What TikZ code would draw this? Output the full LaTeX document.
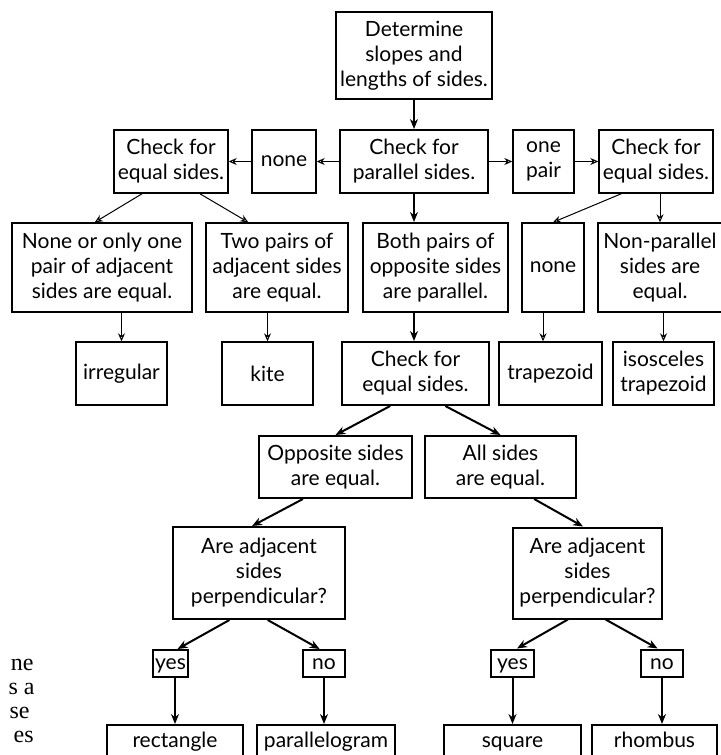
\documentclass[tikz,border=0pt]{standalone}
\usepackage{fontspec}
\setmainfont{Lato}
\newfontfamily\marginfont{Liberation Serif}
\usetikzlibrary{arrows.meta,calc}
\tikzset{%
	mainbox/.style   = {draw, rectangle, line width=1pt, align=center, inner sep=1pt, font=\fontsize{10.5}{12.5}\selectfont},
	sidebox/.style   = {mainbox, line width=0.7pt},
	endbox/.style    = {mainbox, text height=1.6ex, text depth=0.4ex},
	boxsize/.style 2 args = {minimum width=#1*0.5pt, minimum height=#2*0.5pt},
	margintext/.style= {inner sep=0pt, font=\marginfont\fontsize{12}{14}\selectfont},
	mainarrow/.style = {line width=1pt, -{Stealth[length=5pt,width=4pt]}},
	sidearrow/.style = {line width=0.5pt, -{Stealth[open,length=4pt,width=3.5pt]}},
}

\begin{document}
\begin{tikzpicture}[x=0.5pt,y=-0.5pt]
	\useasboundingbox (0,0) rectangle (720,755);
	
	% top
	\node[mainbox, boxsize={156}{87}] (det) at (414,55.5) {Determine\\slopes and\\lengths of sides.};
	\node[mainbox, boxsize={148}{63}] (par) at (414,161.5) {Check for\\parallel sides.};
	\node[sidebox, boxsize={64}{63}] (noneL) at (284,161.5) {none};
	\node[sidebox, boxsize={114}{63}] (eqL) at (171,161.5) {Check for\\equal sides.};
	\node[sidebox, boxsize={61}{63}] (onepair) at (543.5,161.5) {one\\pair};
	\node[sidebox, boxsize={114}{63}] (eqR) at (656,161.5) {Check for\\equal sides.};
	
	% second row
	\node[sidebox, boxsize={180}{89}] (noneadj) at (102,267.5) {None or only one\\pair of adjacent\\sides are equal.};
	\node[sidebox, boxsize={142}{89}] (twopairs) at (277,267.5) {Two pairs of\\adjacent sides\\are equal.};
	\node[mainbox, boxsize={145}{89}] (both) at (435.5,267.5) {Both pairs of\\opposite sides\\are parallel.};
	\node[sidebox, boxsize={62}{89}] (noneR) at (553,267.5) {none};
	\node[sidebox, boxsize={124}{89}] (nonpar) at (660,267.5) {Non-parallel\\sides are\\equal.};
	
	% third row
	\node[sidebox, boxsize={91}{63}] (irr) at (121.5,373.5) {irregular};
	\node[sidebox, boxsize={91}{63}] (kite) at (267.5,373.5) {kite};
	\node[mainbox, boxsize={147}{63}] (eqM) at (415.5,373.5) {Check for\\equal sides.};
	\node[sidebox, boxsize={103}{63}] (trap) at (550.5,373.5) {trapezoid};
	\node[sidebox, boxsize={101}{63}] (isos) at (663.5,373.5) {isosceles\\trapezoid};
	
	% lower tree
	\node[mainbox, boxsize={153}{62}] (opp) at (335.5,467) {Opposite sides\\are equal.};
	\node[mainbox, boxsize={151}{62}] (all) at (500.5,467) {All sides\\are equal.};
	\node[mainbox, boxsize={172}{92}] (adjL) at (259,573) {Are adjacent\\sides\\perpendicular?};
	\node[mainbox, boxsize={149}{91}] (adjR) at (587.5,573) {Are adjacent\\sides\\perpendicular?};
	\node[endbox, boxsize={35}{27}] (yesL) at (170.5,663.5) {yes};
	\node[endbox, boxsize={42}{27}] (noL) at (324,663.5) {no};
	\node[endbox, boxsize={43}{27}] (yesR) at (512.5,663) {yes};
	\node[endbox, boxsize={42}{27}] (noR) at (662,663) {no};
	\node[endbox, boxsize={136}{33}] (rect) at (175,741.5) {rectangle};
	\node[endbox, boxsize={138}{33}] (para) at (326,741.5) {parallelogram};
	\node[endbox, boxsize={137}{33}] (sq) at (512.5,741.5) {square};
	\node[endbox, boxsize={125}{33}] (rhomb) at (654.5,741.5) {rhombus};
	
	% cut text at the margin
	\node[margintext, anchor=base east] (m1) at (34,670) {ne};
	\node[margintext, anchor=base east] (m2) at (35,694) {s a};
	\node[margintext, anchor=base east] (m3) at (30,718) {se};
	\node[margintext, anchor=base east] (m4) at (34,742) {es};
	
	% main path
	\draw[mainarrow] (det) -- (par);
	\draw[mainarrow] (par) -- (par.south |- both.north);
	\draw[mainarrow] (par.south |- both.south) -- (par.south |- eqM.north);
	\draw[mainarrow] ($(eqM.south west)!0.33!(eqM.south east)$) -- (opp.north);
	\draw[mainarrow] ($(eqM.south west)!0.7!(eqM.south east)$) -- (all.north);
	\draw[mainarrow] ($(opp.south west)!0.29!(opp.south east)$) -- ($(adjL.north west)!0.46!(adjL.north east)$);
	\draw[mainarrow] ($(all.south west)!0.72!(all.south east)$) -- ($(adjR.north west)!0.47!(adjR.north east)$);
	\draw[mainarrow] ($(adjL.south west)!0.33!(adjL.south east)$) -- ($(yesL.north west)!0.69!(yesL.north east)$);
	\draw[mainarrow] ($(adjL.south west)!0.55!(adjL.south east)$) -- ($(noL.north west)!0.4!(noL.north east)$);
	\draw[mainarrow] ($(adjR.south west)!0.37!(adjR.south east)$) -- ($(yesR.north west)!0.6!(yesR.north east)$);
	\draw[mainarrow] ($(adjR.south west)!0.62!(adjR.south east)$) -- ($(noR.north west)!0.4!(noR.north east)$);
	\draw[mainarrow] (rect.north |- yesL.south) -- (rect.north);
	\draw[mainarrow] (noL) -- (noL |- para.north);
	\draw[mainarrow] (yesR) -- (yesR |- sq.north);
	\draw[mainarrow] (noR) -- (noR |- rhomb.north);
	
	% side branches
	\draw[sidearrow] (par) -- (noneL);
	\draw[sidearrow] (noneL) -- (eqL);
	\draw[sidearrow] (par) -- (onepair);
	\draw[sidearrow] (onepair) -- (eqR);
	\draw[sidearrow] ($(eqL.south west)!0.25!(eqL.south east)$) -- ($(noneadj.north west)!0.46!(noneadj.north east)$);
	\draw[sidearrow] ($(eqL.south west)!0.75!(eqL.south east)$) -- ($(twopairs.north west)!0.3!(twopairs.north east)$);
	\draw[sidearrow] ($(eqR.south west)!0.2!(eqR.south east)$) -- (noneR.north);
	\draw[sidearrow] (nonpar.north |- eqR.south) -- (nonpar);
	\draw[sidearrow] (irr.north |- noneadj.south) -- (irr);
	\draw[sidearrow] (kite.north |- twopairs.south) -- (kite);
	\draw[sidearrow] ([xshift=-5pt]noneR.south) -- ([xshift=-5pt]noneR.south |- trap.north);
	\draw[sidearrow] (isos.north |- nonpar.south) -- (isos);
\end{tikzpicture}
\end{document}
